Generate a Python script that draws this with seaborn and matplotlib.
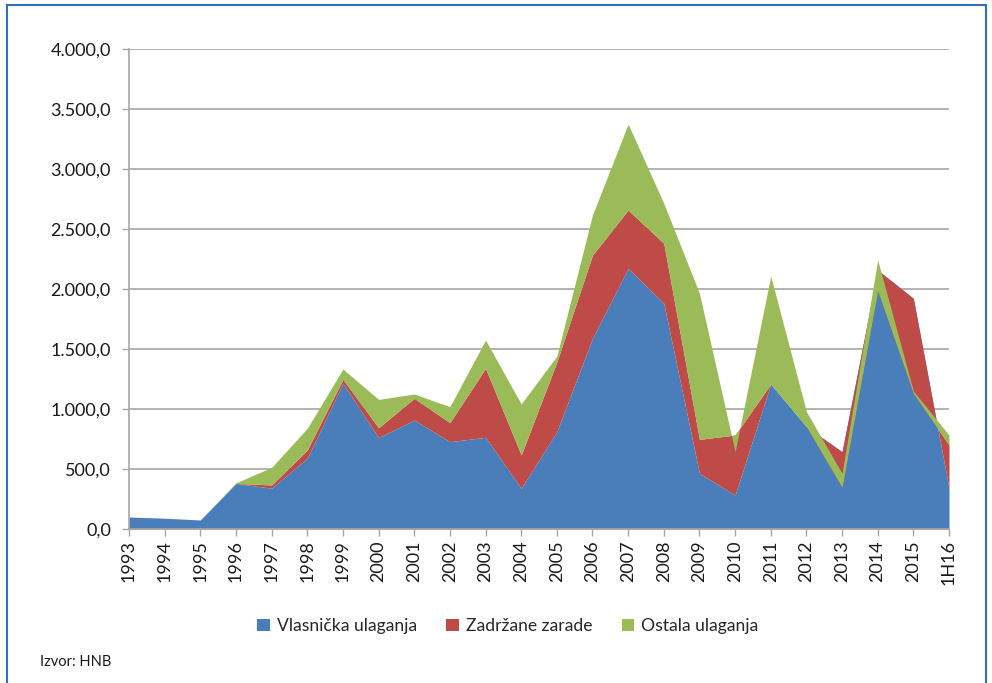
import numpy as np
import pandas as pd
import matplotlib
matplotlib.use("Agg")
import matplotlib.pyplot as plt
import seaborn as sns
from matplotlib.patches import Patch, Rectangle

categories = ["1993", "1994", "1995", "1996", "1997", "1998", "1999", "2000",
              "2001", "2002", "2003", "2004", "2005", "2006", "2007", "2008",
              "2009", "2010", "2011", "2012", "2013", "2014", "2015", "1H16"]
vlasnicka = [100, 90, 75, 380, 340, 590, 1214, 762, 908, 728, 764, 339, 811,
             1589, 2172, 1881, 464, 283, 1208, 853, 644, 2158, 1922, 340]
zadrzane = [0, 0, 0, 0, 27, 68, 33, 82, 181, 158, 575, 278, 580,
            694, 486, 500, 283, 500, 0, 0, -297, -172, -791, 360]
ostala = [0, 0, 0, 5, 147, 181, 86, 236, 36, 133, 236, 425, 50,
          334, 717, 333, 1217, -139, 900, 125, 117, 256, 19, 83]
series_names = ["Vlasnička ulaganja", "Zadržane zarade", "Ostala ulaganja"]
y_ticks = [0, 500, 1000, 1500, 2000, 2500, 3000, 3500, 4000]

sns.set_theme(style="white")
plt.rcParams['font.family'] = ['Lato', 'DejaVu Sans']

palette = sns.color_palette(["#4A7EBB", "#BE4B48", "#9BBB59"])

df = pd.DataFrame({"cat": categories, "v": vlasnicka, "z": zadrzane, "o": ostala})
x = np.arange(len(df))
c1 = df["v"].to_numpy(float)
c2 = c1 + df["z"].to_numpy(float)
c3 = c2 + df["o"].to_numpy(float)

fig = plt.figure(figsize=(9.92, 6.83), dpi=100)
ax = fig.add_axes([129 / 992, 1 - 529 / 683, (949 - 129) / 992, (529 - 49) / 683])

ax.fill_between(x, 0, c1, color=palette[0], lw=0, zorder=2)
ax.fill_between(x, c1, c2, color=palette[1], lw=0, zorder=3)
ax.fill_between(x, c2, c3, color=palette[2], lw=0, zorder=4)

ax.set_xlim(0, len(categories) - 1)
ax.set_ylim(0, 4000)
ax.set_yticks(y_ticks)
ax.set_yticklabels([f"{v:,.1f}".replace(",", "X").replace(".", ",").replace("X", ".")
                    for v in y_ticks])
ax.set_xticks(x)
ax.set_xticklabels(categories, rotation=90)

grid_col = "#A6A6A6"
ax.grid(axis="y", color=grid_col, lw=1.2, zorder=0)
ax.grid(axis="x", visible=False)
ax.set_axisbelow(True)
for s in ["top", "right"]:
    ax.spines[s].set_visible(False)
for s in ["left", "bottom"]:
    ax.spines[s].set_color(grid_col)
    ax.spines[s].set_linewidth(1.2)
    ax.spines[s].set_zorder(5)
ax.tick_params(axis="y", left=True, length=5, width=1, color=grid_col,
               labelsize=13, labelcolor="#1a1a1a", pad=8)
ax.tick_params(axis="x", bottom=True, length=5, width=1, color=grid_col,
               labelsize=13, labelcolor="#1a1a1a", pad=3)

handles = [Patch(facecolor=palette[i], edgecolor="none", label=series_names[i]) for i in range(3)]
fig.legend(handles=handles, loc="center", bbox_to_anchor=(0.512, 1 - 626 / 683),
           ncol=3, frameon=False, fontsize=12.6, handlelength=0.7, handleheight=0.7,
           handletextpad=0.4, columnspacing=1.7)

fig.text(40 / 992, 1 - 662 / 683, "Izvor: HNB", fontsize=10.5, va="center", color="#1a1a1a")

fig.add_artist(Rectangle((7 / 992, -0.02), (986 - 7) / 992, 1 - 5 / 683 + 0.02,
                         transform=fig.transFigure, fill=False,
                         edgecolor="#2F6FBF", lw=1.5))

fig.savefig("out.png", dpi=100)
